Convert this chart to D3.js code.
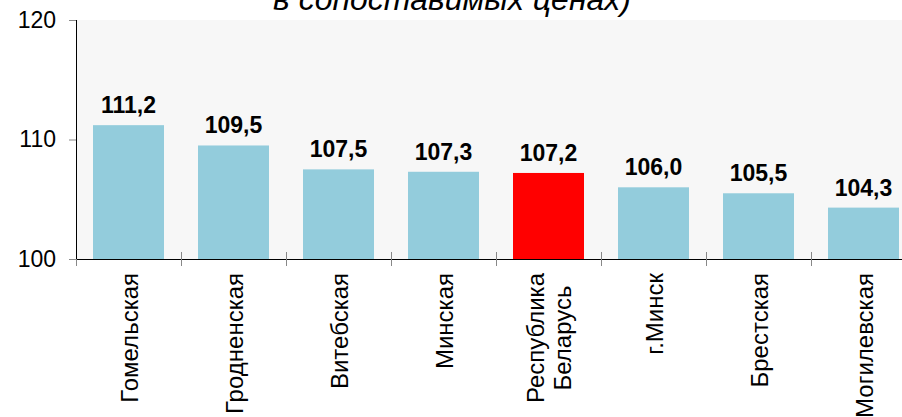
<!DOCTYPE html>
<html>
<head>
<meta charset="utf-8">
<script src="https://cdn.jsdelivr.net/npm/d3@7"></script>
<style>
  html, body { margin: 0; padding: 0; background: #fff; }
  svg { display: block; font-family: Arial, "Liberation Sans", sans-serif; }
</style>
</head>
<body>
<div id="chart"></div>
<script>
// Growth index by region, % (comparable prices)
const categories = ['Гомельская', 'Гродненская', 'Витебская', 'Минская', 'Республика\nБеларусь', 'г.Минск', 'Брестская', 'Могилевская'];
const values     = [111.2, 109.5, 107.5, 107.3, 107.2, 106.0, 105.5, 104.3];
const highlight  = 'Республика\nБеларусь';
const yTicks     = [100, 110, 120];
const titleTail  = 'в сопоставимых ценах)';

const W = 902, H = 417;
const margin = { top: 20, left: 76, bottom: 158 };
const step = 105;
const innerH = H - margin.top - margin.bottom;

const svg = d3.select('#chart').append('svg').attr('width', W).attr('height', H);

// title, mostly cut off at the top of the picture
svg.append('text')
  .attr('x', 452).attr('y', 10)
  .attr('text-anchor', 'middle')
  .style('font-size', '32px').style('font-style', 'italic')
  .attr('fill', '#000')
  .text(titleTail);

const x = d3.scaleBand()
  .domain(categories)
  .range([margin.left, margin.left + step * categories.length])
  .paddingInner(0).paddingOuter(0);

const y = d3.scaleLinear().domain([100, 120]).range([margin.top + innerH, margin.top]);

const barW = Math.round(x.bandwidth() * 0.676);

// plot area background
svg.append('rect')
  .attr('x', margin.left).attr('y', y(120))
  .attr('width', W - margin.left).attr('height', y(100) - y(120))
  .attr('fill', '#f7f7f7');

// bars
svg.selectAll('.bar')
  .data(categories)
  .join('rect')
  .attr('class', 'bar')
  .attr('x', c => x(c) + (x.bandwidth() - barW) / 2)
  .attr('y', (c, i) => y(values[i]))
  .attr('width', barW)
  .attr('height', (c, i) => y(100) - y(values[i]))
  .attr('fill', c => c === highlight ? '#ff0000' : '#93ccdc');

// value labels
svg.selectAll('.val')
  .data(categories)
  .join('text')
  .attr('class', 'val')
  .attr('x', c => x(c) + x.bandwidth() / 2)
  .attr('y', (c, i) => y(values[i]) - 12)
  .attr('text-anchor', 'middle')
  .style('font-size', '23px').style('font-weight', 'bold')
  .attr('fill', '#000')
  .text((c, i) => values[i].toFixed(1).replace('.', ','));

// y axis
svg.append('g')
  .attr('transform', `translate(${margin.left},0)`)
  .call(d3.axisLeft(y).tickValues(yTicks).tickSize(7).tickPadding(13).tickFormat(d3.format('d')))
  .call(ax => ax.select('.domain').attr('stroke', '#000').attr('d', `M0.5,${y(120)}V${y(100)}`))
  .call(ax => ax.selectAll('.tick line').attr('stroke', '#888'))
  .call(ax => ax.selectAll('text').attr('fill', '#000').style('font-size', '23px')
    .style('font-family', 'Arial, "Liberation Sans", sans-serif'));

// x axis line
const yBase = y(100);
svg.append('line')
  .attr('x1', margin.left).attr('x2', W)
  .attr('y1', yBase + 0.5).attr('y2', yBase + 0.5)
  .attr('stroke', '#000');

// category boundary ticks
svg.selectAll('.xtick')
  .data(categories)
  .join('line')
  .attr('class', 'xtick')
  .attr('x1', c => x(c) + 0.5).attr('x2', c => x(c) + 0.5)
  .attr('y1', (c, i) => i === 0 ? yBase : yBase - 7)
  .attr('y2', yBase + 7)
  .attr('stroke', '#888');

// rotated category labels
const labelTop = 273, lineH = 27;
const labels = svg.selectAll('.cat')
  .data(categories)
  .join('text')
  .attr('class', 'cat')
  .style('font-size', '24px')
  .attr('fill', '#000');

labels.each(function (c) {
  const lines = c.split('\n');
  const t = d3.select(this);
  lines.forEach((ln, k) => {
    t.append('tspan').attr('x', 0).attr('dy', k === 0 ? -(lines.length - 1) / 2 * lineH : lineH).text(ln);
  });
  // widest line ends at labelTop, others centred on it
  let maxLen = 0;
  t.selectAll('tspan').each(function () { maxLen = Math.max(maxLen, this.getComputedTextLength()); });
  const cx = x(c) + x.bandwidth() / 2 + 9;
  t.attr('text-anchor', 'middle')
    .attr('transform', `translate(${cx},${labelTop + maxLen / 2}) rotate(-90)`);
});
</script>
</body>
</html>
